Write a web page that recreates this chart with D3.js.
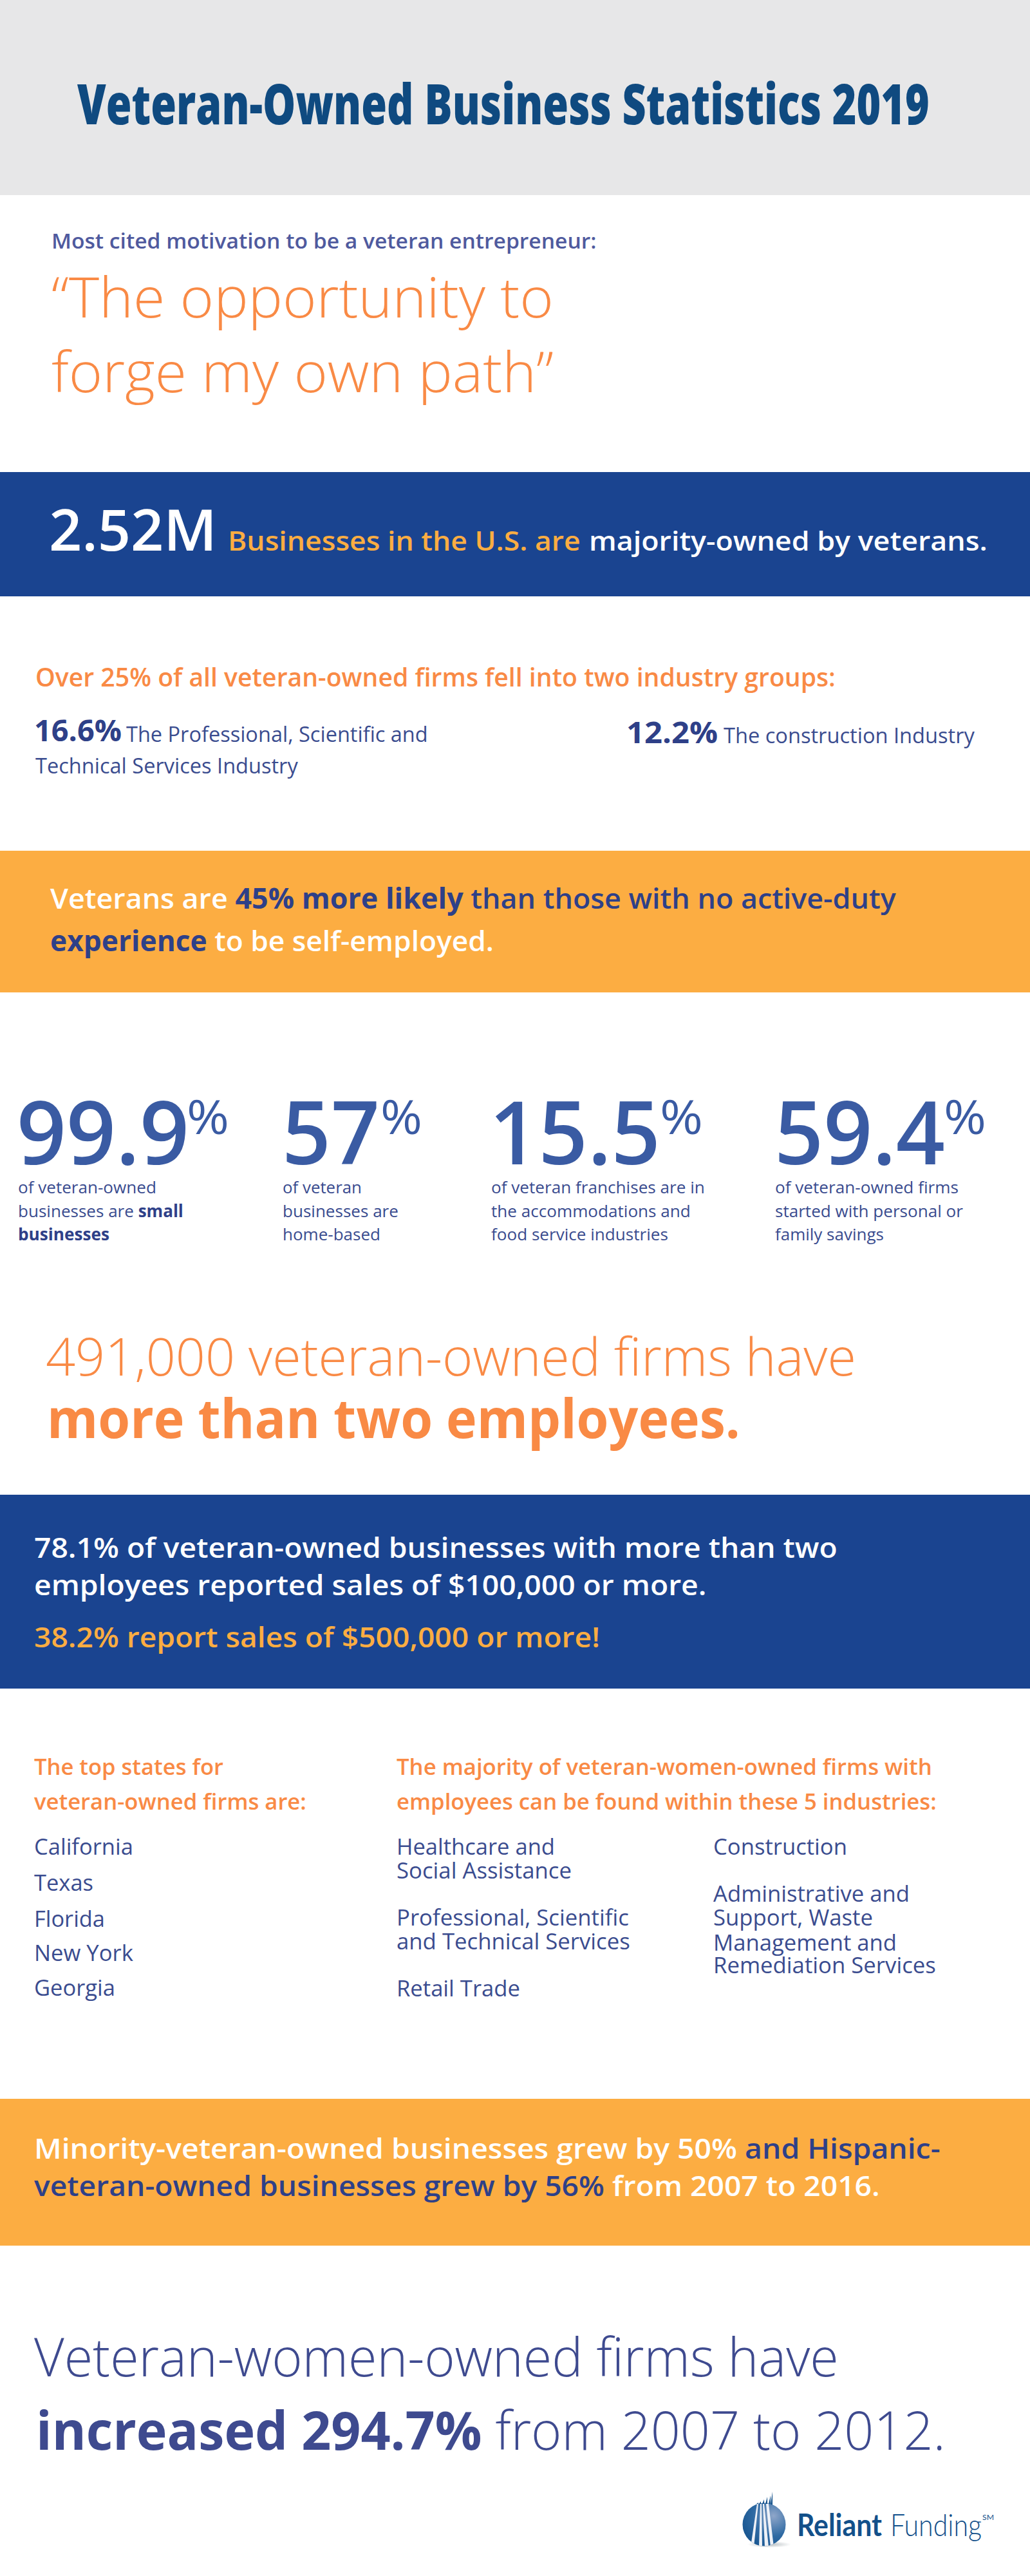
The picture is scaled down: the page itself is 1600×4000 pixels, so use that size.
<!DOCTYPE html>
<html>
<head>
<meta charset="utf-8">
<title>Veteran-Owned Business Statistics 2019</title>
<script src="https://cdnjs.cloudflare.com/ajax/libs/d3/7.8.5/d3.min.js"></script>
<style>
  html, body { margin: 0; padding: 0; background: #fff; }
  svg { display: block; }
  text { font-family: "Open Sans", sans-serif; white-space: pre; }
</style>
</head>
<body>
<div id="chart"></div>
<script>
// content
const titleText = "Veteran-Owned Business Statistics 2019";
const motivationLabel = "Most cited motivation to be a veteran entrepreneur:";
const quoteLines = ["“The opportunity to", "forge my own path”"];
const firmCount = "2.52M";
const firmCountRuns = ["Businesses in the U.S. are", "majority-owned by veterans."];
const industryHeading = "Over 25% of all veteran-owned firms fell into two industry groups:";
const industryShares = [16.6, 12.2];
const industryNames = ["The Professional, Scientific and", "The construction Industry"];
const industryNameCont = "Technical Services Industry";
const likelyRuns = [
  ["Veterans are ", "45% more likely", " than those with no active-duty"],
  ["experience", " to be self-employed."]
];
const statValues = [99.9, 57, 15.5, 59.4];
const statCaptions = [
  [["of veteran-owned"], ["businesses are ", "small"], ["", "businesses"]],
  [["of veteran"], ["businesses are"], ["home-based"]],
  [["of veteran franchises are in"], ["the accommodations and"], ["food service industries"]],
  [["of veteran-owned firms"], ["started with personal or"], ["family savings"]]
];
const employeeLines = ["491,000 veteran-owned firms have", "more than two employees."];
const salesLines = [
  "78.1% of veteran-owned businesses with more than two",
  "employees reported sales of $100,000 or more.",
  "38.2% report sales of $500,000 or more!"
];
const statesHeading = ["The top states for", "veteran-owned firms are:"];
const topStates = ["California", "Texas", "Florida", "New York", "Georgia"];
const womenHeading = [
  "The majority of veteran-women-owned firms with",
  "employees can be found within these 5 industries:"
];
const womenIndustriesLeft = [
  "Healthcare and", "Social Assistance",
  "Professional, Scientific", "and Technical Services",
  "Retail Trade"
];
const womenIndustriesRight = [
  "Construction", "Administrative and", "Support, Waste",
  "Management and", "Remediation Services"
];
const minorityRuns = [
  ["Minority-veteran-owned businesses grew by 50%", " and Hispanic-"],
  ["veteran-owned businesses grew by 56%", " from 2007 to 2016."]
];
const womenLine = "Veteran-women-owned firms have";
const womenRuns = ["increased 294.7%", " from 2007 to 2012."];
const logoWords = ["Reliant", "Funding", "SM"];

// colours
const gray = "#e7e7e8", blue = "#1a4490", amber = "#fcad42", orange = "#f98a45";
const navy = "#2e4088", slate = "#3a4c8f", statBlue = "#3a5ba3", titleBlue = "#0f4a80", logoBlue = "#13508a";

const w = 1600, h = 4000;

const svg = d3.select("#chart").append("svg")
  .attr("width", w)
  .attr("height", h)
  .attr("viewBox", `0 0 ${w} ${h}`);

svg.append("rect").attr("width", w).attr("height", h).attr("fill", "#fff");

// coloured bands, top and bottom edge per band
const bandNames = ["title", "firms", "likely", "sales", "minority"];
const bandTop = d3.scaleOrdinal().domain(bandNames).range([0, 733, 1321, 2321, 3259]);
const bandBottom = d3.scaleOrdinal().domain(bandNames).range([303, 926, 1541, 2622, 3487]);
const bandFill = d3.scaleOrdinal().domain(bandNames).range([gray, blue, amber, blue, amber]);

svg.selectAll("rect.band")
  .data(bandNames)
  .join("rect")
  .attr("class", "band")
  .attr("x", 0)
  .attr("width", w)
  .attr("y", d => bandTop(d))
  .attr("height", d => bandBottom(d) - bandTop(d))
  .attr("fill", d => bandFill(d));

// one line of text, squeezed horizontally so it ends at `right`
function line(x, y, right, size, weight, fill, runs, family) {
  const t = svg.append("text")
    .attr("font-size", size)
    .attr("font-weight", weight)
    .attr("fill", fill);
  if (family) t.style("font-family", family);
  (Array.isArray(runs) ? runs : [[runs]]).forEach(r => {
    const [txt, f, wt] = Array.isArray(r) ? r : [r];
    const s = t.append("tspan").text(txt);
    if (f) s.attr("fill", f);
    if (wt) s.attr("font-weight", wt);
  });
  const len = t.node().getComputedTextLength();
  t.attr("transform", `translate(${x},${y}) scale(${(right - x) / len},1)`);
  return t;
}

// title band
line(120, 193, 1444, 86, 800, titleBlue, titleText);

// motivation quote
line(80, 386, 927, 33, 600, "#4f5a9e", motivationLabel);
line(80, 493, 860, 86, 300, orange, quoteLines[0]);
line(80, 609, 860, 86, 300, orange, quoteLines[1]);

// 2.52M band
line(76, 855, 337, 88, 600, "#fff", firmCount);
line(354, 855, 902, 41, 600, amber, firmCountRuns[0]);
line(915, 855, 1534, 41, 600, "#fff", firmCountRuns[1]);

// industry groups
line(55, 1066, 1298, 40, 600, orange, industryHeading);
line(53, 1151, 189, 46, 700, navy, industryShares[0] + "%");
line(196, 1152, 665, 32, 400, slate, industryNames[0]);
line(55, 1201, 463, 32, 400, slate, industryNameCont);
line(973, 1154, 1115, 46, 700, navy, industryShares[1] + "%");
line(1124, 1154, 1514, 32, 400, slate, industryNames[1]);

// 45% band
line(78, 1411, 1392, 44, 600, navy, [[likelyRuns[0][0], "#fff"], [likelyRuns[0][1], null, 700], [likelyRuns[0][2]]]);
line(78, 1477, 767, 44, 600, navy, [[likelyRuns[1][0], null, 700], [likelyRuns[1][1], "#fff"]]);

// stat columns
const statX = d3.scaleOrdinal().domain(statValues).range([26, 438, 760, 1203]);
const statRight = d3.scaleOrdinal().domain(statValues).range([294, 590, 1026, 1468]);
const pctX = d3.scaleOrdinal().domain(statValues).range([290, 591, 1025, 1466]);
const pctRight = d3.scaleOrdinal().domain(statValues).range([356, 656, 1092, 1532]);
const captionX = d3.scaleOrdinal().domain(statValues).range([28, 439, 763, 1204]);
const captionRight = [[243, 285, 170], [562, 619, 591], [1095, 1073, 1038], [1489, 1496, 1373]];
const captionY = d3.scalePoint().domain([0, 1, 2]).range([1853, 1926]);

statValues.forEach((v, i) => {
  line(statX(v), 1808, statRight(v), 136, 600, statBlue, String(v));
  line(pctX(v), 1761, pctRight(v), 74, 400, statBlue, "%");
  statCaptions[i].forEach((runs, j) => {
    line(captionX(v), captionY(j), captionRight[i][j], 26, 400, slate,
      [[runs[0]], ...(runs[1] ? [[runs[1], navy, 700]] : [])]);
  });
});

// 491,000
line(71, 2136, 1330, 81, 300, orange, employeeLines[0]);
line(73, 2233, 1150, 84, 700, orange, employeeLines[1]);

// sales band
line(53, 2419, 1301, 44, 600, "#fff", salesLines[0]);
line(53, 2477, 1098, 44, 600, "#fff", salesLines[1]);
line(53, 2558, 932, 44, 600, amber, salesLines[2]);

// lists
line(53, 2756, 347, 35, 600, orange, statesHeading[0]);
line(53, 2810, 476, 35, 600, orange, statesHeading[1]);
line(616, 2756, 1448, 35, 600, orange, womenHeading[0]);
line(616, 2810, 1455, 35, 600, orange, womenHeading[1]);

const stateY = d3.scaleOrdinal().domain(topStates).range([2880, 2936, 2992, 3045, 3099]);
const stateRight = d3.scaleOrdinal().domain(topStates).range([207, 145, 163, 207, 179]);
topStates.forEach(s => line(53, stateY(s), stateRight(s), 35, 400, slate, s));

const leftY = d3.scaleOrdinal().domain(womenIndustriesLeft).range([2880, 2917, 2990, 3027, 3100]);
const leftRight = d3.scaleOrdinal().domain(womenIndustriesLeft).range([862, 888, 977, 979, 808]);
womenIndustriesLeft.forEach(s => line(616, leftY(s), leftRight(s), 35, 400, slate, s));

const rightY = d3.scaleOrdinal().domain(womenIndustriesRight).range([2880, 2953, 2990, 3029, 3064]);
const rightRight = d3.scaleOrdinal().domain(womenIndustriesRight).range([1316, 1413, 1356, 1393, 1454]);
womenIndustriesRight.forEach(s => line(1108, rightY(s), rightRight(s), 35, 400, slate, s));

// minority band
line(53, 3352, 1461, 44, 600, "#fff", [[minorityRuns[0][0]], [minorityRuns[0][1], navy]]);
line(53, 3410, 1367, 44, 600, navy, [[minorityRuns[1][0]], [minorityRuns[1][1], "#fff"]]);

// women-owned closing lines
line(53, 3690, 1303, 83, 300, "#3e4a8f", womenLine);
line(56, 3804, 1469, 83, 300, "#3e4a8f", [[womenRuns[0], null, 700], [womenRuns[1]]]);

// logo
const defs = svg.append("defs");
const grad = defs.append("radialGradient").attr("id", "logoGrad")
  .attr("cx", 0.72).attr("cy", 0.3).attr("r", 0.85);
grad.append("stop").attr("offset", 0).attr("stop-color", "#8fa6c9");
grad.append("stop").attr("offset", 0.55).attr("stop-color", "#2f6aa3");
grad.append("stop").attr("offset", 1).attr("stop-color", "#14528d");
defs.append("clipPath").attr("id", "logoClip")
  .append("circle").attr("cx", 1187).attr("cy", 3920).attr("r", 33.5);
const shadow = defs.append("radialGradient").attr("id", "logoShadow");
shadow.append("stop").attr("offset", 0).attr("stop-color", "#b5bcc0");
shadow.append("stop").attr("offset", 1).attr("stop-color", "#fff");

svg.append("ellipse").attr("cx", 1195).attr("cy", 3951).attr("rx", 34).attr("ry", 5)
  .attr("fill", "url(#logoShadow)");
svg.append("circle").attr("cx", 1187).attr("cy", 3920).attr("r", 33.5).attr("fill", "url(#logoGrad)");

// white stripes through the globe: [bottom left, bottom right, top left, top right]
const stripes = [[1166, 1171, 1176, 1178], [1179, 1184, 1181, 1183], [1188, 1194, 1185, 1187], [1197, 1202, 1190, 1194]];
const logoG = svg.append("g").attr("clip-path", "url(#logoClip)");
logoG.selectAll("path")
  .data(stripes)
  .join("path")
  .attr("fill", "#eef1f7")
  .attr("d", d => `M${d[0]},3955L${d[1]},3955L${d[3]},3888L${d[2]},3888Z`);

// spire above the globe
const spire = [[1175, 3888, 3886], [1179, 3888, 3884], [1184, 3888, 3881], [1189, 3888, 3877], [1194, 3888, 3875], [1197, 3889, 3869]];
svg.selectAll("path.spire")
  .data(spire)
  .join("path")
  .attr("class", "spire")
  .attr("fill", logoBlue)
  .attr("d", d => `M${d[0]},${d[1]}L${d[0] + 3},${d[1]}L${d[0] + 3},${d[2]}Z`);

const logoFont = "Lato, 'Open Sans', sans-serif";
line(1238, 3938, 1370, 48, 700, logoBlue, logoWords[0], logoFont);
line(1383, 3938, 1525, 48, 300, logoBlue, logoWords[1], logoFont);
line(1526, 3913, 1544, 11, 400, logoBlue, logoWords[2], logoFont);
</script>
</body>
</html>
